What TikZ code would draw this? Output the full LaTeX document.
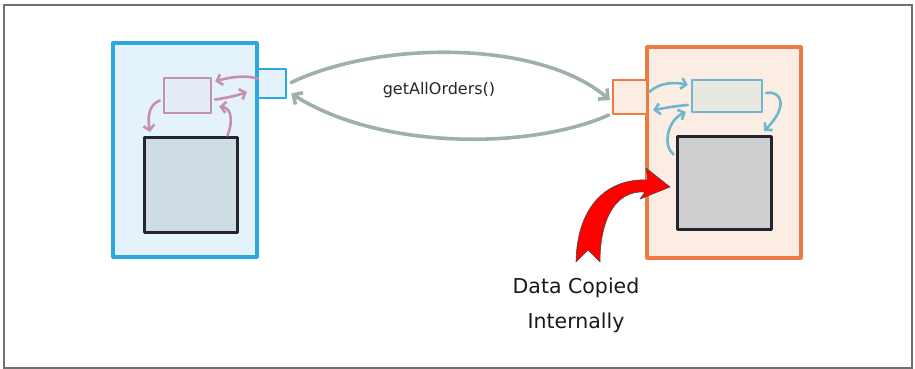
\documentclass[tikz,border=0pt]{standalone}
\usepackage{fontspec}
\setmainfont{DejaVu Sans}
\usetikzlibrary{arrows.meta}
\definecolor{lblue}{HTML}{E4F3FB}
\definecolor{bstroke}{HTML}{2CA7DF}
\definecolor{pinkc}{HTML}{C68FAD}
\definecolor{pinkfill}{HTML}{E4ECF5}
\definecolor{ldark}{HTML}{CFDCE3}
\definecolor{rdark}{HTML}{CDCFD0}
\definecolor{darkedge}{HTML}{25252B}
\definecolor{grayarr}{HTML}{9DB0AE}
\definecolor{ofill}{HTML}{FBECE4}
\definecolor{ostroke}{HTML}{EE7B42}
\definecolor{tealc}{HTML}{6DB8CF}
\definecolor{tealfill}{HTML}{E9E7E2}
\definecolor{framec}{HTML}{707070}
\tikzset{
  box/.style={draw, rectangle, inner sep=0pt, line join=round},
  container/.style={box, line width=3.2pt},
  darkbox/.style={box, draw=darkedge, line width=3pt},
  pinkarrow/.style={draw=pinkc, line width=2.6pt, line cap=round, -{Straight Barb[length=5pt,width=11pt,line width=2.6pt]}},
  tealarrow/.style={draw=tealc, line width=2.6pt, line cap=round, -{Straight Barb[length=5pt,width=11pt,line width=2.6pt]}},
  grayarrow/.style={draw=grayarr, line width=3.6pt, line cap=round, -{Straight Barb[length=7pt,width=14pt,line width=3.6pt]}},
}
\begin{document}
\begin{tikzpicture}[x=1pt,y=-1pt]
\useasboundingbox (0,0) rectangle (915,369);
\draw[framec, line width=1.2pt] (4,5) rectangle (912,368);
% left service
\node[container, draw=bstroke, fill=lblue, minimum width=144pt, minimum height=214pt] (lcont) at (185,150) {};
\node[box, draw=bstroke, fill=lblue, line width=2.4pt, minimum width=28pt, minimum height=29pt] (lport) at (272,83.5) {};
\node[box, draw=pinkc, fill=pinkfill, line width=2.4pt, minimum width=47pt, minimum height=35pt] (pink) at (187.5,95.5) {};
\node[darkbox, fill=ldark, minimum width=93pt, minimum height=95pt] (ldb) at (190.5,184.5) {};
% right service
\node[container, draw=ostroke, fill=ofill, minimum width=154pt, minimum height=211pt] (rcont) at (724,152.5) {};
\node[box, draw=ostroke, fill=ofill, line width=2.4pt, minimum width=34pt, minimum height=34pt] (rport) at (630,97) {};
\node[box, draw=tealc, fill=tealfill, line width=2.4pt, minimum width=70pt, minimum height=32pt] (teal) at (727,96) {};
\node[darkbox, fill=rdark, minimum width=94pt, minimum height=93pt] (rdb) at (724,182.5) {};
% pink arrows
\draw[pinkarrow] ([xshift=1pt,yshift=5pt]lport.west) .. controls (245,75) and (230,77) .. ([xshift=3pt,yshift=14pt]pink.east);
\draw[pinkarrow] ([xshift=3pt,yshift=-4pt]pink.east) .. controls (225,98) and (236,96) .. (247,92);
\draw[pinkarrow] ([xshift=37pt]ldb.north) .. controls (233,122) and (232,108) .. ([xshift=7pt,yshift=-11pt]pink.east);
\draw[pinkarrow] ([xshift=-3pt,yshift=-5pt]pink.west) .. controls (150,104) and (147,115) .. (150,132);
% teal arrows
\draw[tealarrow] ([xshift=1pt,yshift=5pt]rport.east) .. controls (660,82) and (675,82) .. ([xshift=-3pt,yshift=11pt]teal.west);
\draw[tealarrow] ([xshift=-3pt,yshift=-9pt]teal.west) .. controls (675,106) and (665,108) .. ([xshift=5pt,yshift=-13pt]rport.east);
\draw[tealarrow] ([xshift=-2pt,yshift=28pt]rdb.west) .. controls (662,145) and (668,120) .. ([xshift=-5pt,yshift=-16pt]teal.west);
\draw[tealarrow] ([xshift=3pt,yshift=3pt]teal.east) .. controls (780,90) and (790,105) .. (764,131);
% calls
\draw[grayarrow] ([xshift=4pt,yshift=1pt]lport.east) .. controls (380,40) and (540,40) .. ([xshift=-2pt,yshift=-3pt]rport.west);
\draw[grayarrow] ([xshift=-3pt,yshift=-18pt]rport.west) .. controls (530,150) and (380,150) .. ([xshift=4pt,yshift=-10pt]lport.east);
\node[font=\fontsize{16}{18}\selectfont, text=black!85] (call) at (439,90) {getAllOrders()};
% red arrow
\node[font=\fontsize{20.5}{35}\selectfont, align=center, text=black!90] (note) at (576,305) {Data Copied\\Internally};
\filldraw[fill=red, draw=black!70, line width=0.6pt, line join=round]
  (576,262) .. controls (577,205) and (608,178) .. (648,180)
  -- (646,168) -- (670,187) -- (640,199) -- (645,192)
  .. controls (615,190) and (600,220) .. (600,262)
  -- (588,250) -- cycle;
\end{tikzpicture}
\end{document}
